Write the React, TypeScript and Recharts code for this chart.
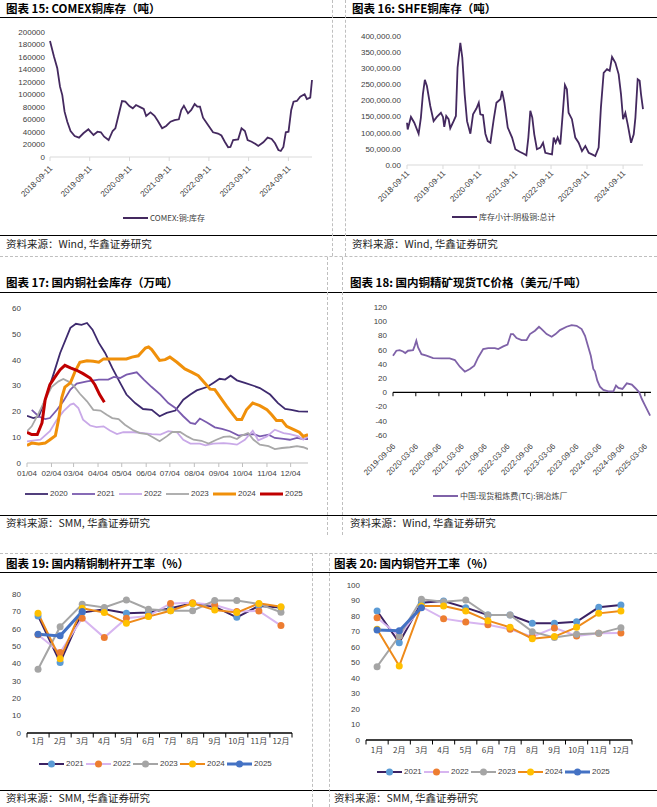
import React from 'react';
import { LineChart, Line, XAxis, YAxis, ReferenceLine } from 'recharts';

const SANS = '"Liberation Sans", Arial, sans-serif';
const CJK = '"Noto Sans CJK SC", "Noto Sans", sans-serif';
const AXIS = '#404040';

// 图表15: COMEX铜库存（吨）
const comexDates = [
  '2018-09-11', '2018-10-18', '2018-11-17', '2018-12-12', '2019-01-02', '2019-01-23', '2019-02-17', '2019-03-19',
  '2019-04-26', '2019-06-05', '2019-07-15', '2019-08-30', '2019-10-16', '2019-11-22', '2019-12-23', '2020-01-22',
  '2020-03-03', '2020-04-09', '2020-05-04', '2020-06-10', '2020-07-04', '2020-08-04', '2020-09-10', '2020-10-11',
  '2020-11-10', '2020-12-27', '2021-01-20', '2021-02-11', '2021-03-23', '2021-04-29', '2021-05-30', '2021-07-08',
  '2021-08-14', '2021-09-23', '2021-10-30', '2021-12-09', '2021-12-31', '2022-01-24', '2022-03-03', '2022-04-02',
  '2022-05-03', '2022-05-28', '2022-06-21', '2022-07-19', '2022-09-03', '2022-10-19', '2022-12-04', '2023-01-04',
  '2023-02-04', '2023-03-07', '2023-03-28', '2023-04-22', '2023-06-07', '2023-07-08', '2023-08-08', '2023-09-02',
  '2023-10-09', '2023-11-14', '2023-12-09', '2024-01-24', '2024-03-04', '2024-04-10', '2024-05-11', '2024-06-11',
  '2024-07-03', '2024-07-27', '2024-08-18', '2024-09-12', '2024-10-07', '2024-10-28', '2024-11-28', '2024-12-29',
  '2025-02-07', '2025-02-28', '2025-03-31', '2025-04-16',
];
const comexStock = [
  185600, 160500, 142000, 112500, 99000, 72500, 56500, 41600,
  33600, 31000, 38000, 44300, 35200, 40500, 39500, 32500,
  27200, 41600, 45900, 72500, 89600, 88500, 81600, 77900,
  83200, 79000, 76800, 65600, 71500, 66000, 57600, 45900,
  49600, 56500, 59000, 60300, 75200, 82100, 69900, 75200,
  84800, 80500, 80500, 62900, 51200, 39500, 37500, 34400,
  24500, 15500, 16000, 27200, 28300, 45900, 41600, 27200,
  24500, 20800, 17600, 23500, 31000, 28800, 21900, 11200,
  9600, 16000, 39500, 40500, 75200, 88500, 89600, 96500,
  100300, 92800, 95000, 123200,
];
const comexYTicks = [0, 20000, 40000, 60000, 80000, 100000, 120000, 140000, 160000, 180000, 200000];

// 图表16: SHFE铜库存（吨）
const shfeDates = [
  '2018-09-11', '2018-09-18', '2018-10-21', '2018-11-24', '2019-01-07', '2019-01-30', '2019-02-19', '2019-03-11',
  '2019-04-01', '2019-05-05', '2019-06-08', '2019-07-11', '2019-08-21', '2019-09-11', '2019-09-24', '2019-10-14',
  '2019-11-07', '2019-11-24', '2019-12-28', '2020-01-20', '2020-02-06', '2020-03-05', '2020-03-25', '2020-04-18',
  '2020-05-12', '2020-06-15', '2020-07-12', '2020-08-15', '2020-09-08', '2020-09-24', '2020-10-21', '2020-11-14',
  '2020-12-08', '2021-01-04', '2021-02-07', '2021-03-06', '2021-04-16', '2021-05-02', '2021-05-26', '2021-06-29',
  '2021-08-12', '2021-09-14', '2021-10-28', '2021-12-08', '2022-01-04', '2022-01-24', '2022-02-13', '2022-03-05',
  '2022-03-25', '2022-04-21', '2022-05-26', '2022-06-22', '2022-07-15', '2022-08-18', '2022-09-21', '2022-10-08',
  '2022-10-28', '2022-11-17', '2022-12-14', '2023-01-10', '2023-01-30', '2023-02-19', '2023-03-08', '2023-04-11',
  '2023-05-15', '2023-06-18', '2023-07-22', '2023-08-25', '2023-09-28', '2023-11-01', '2023-12-04', '2024-01-07',
  '2024-01-30', '2024-02-27', '2024-04-01', '2024-04-28', '2024-05-22', '2024-06-25', '2024-07-28', '2024-08-21',
  '2024-09-11', '2024-10-04', '2024-10-28', '2024-12-01', '2024-12-28', '2025-01-14', '2025-02-06', '2025-02-26',
  '2025-03-12', '2025-04-01',
];
const shfeStock = [
  131000, 110000, 149000, 131000, 97000, 147000, 219000, 264000,
  245000, 183000, 136000, 149000, 162000, 149000, 118000, 152000,
  142000, 114000, 136000, 152000, 302000, 379000, 333000, 219000,
  136000, 97000, 157000, 175000, 193000, 157000, 155000, 97000,
  74000, 69000, 142000, 193000, 204000, 230000, 193000, 116000,
  85000, 49000, 41000, 35000, 30000, 85000, 168000, 147000,
  95000, 49000, 54000, 69000, 38000, 35000, 33000, 85000,
  69000, 85000, 64000, 168000, 248000, 235000, 162000, 142000,
  85000, 69000, 43000, 59000, 38000, 33000, 28000, 54000,
  178000, 286000, 297000, 292000, 335000, 317000, 281000, 219000,
  142000, 162000, 126000, 69000, 95000, 147000, 266000, 261000,
  219000, 173000,
];
const shfeYTicks = [0, 50000, 100000, 150000, 200000, 250000, 300000, 350000, 400000];
const yearTicks = ['2018-09-11', '2019-09-11', '2020-09-11', '2021-09-11', '2022-09-11', '2023-09-11', '2024-09-11'];

// 图表17: 国内铜社会库存（万吨）
const socMonthTicks = ['01-04', '02-04', '03-04', '04-04', '05-04', '06-04', '07-04', '08-04', '09-04', '10-04', '11-04', '12-04'];
const socYTicks = [0, 10, 20, 30, 40, 50, 60];
const soc2020Dates = ['01-04', '01-12', '01-19', '01-27', '02-07', '02-15', '02-28', '03-07', '03-14', '03-21', '03-28', '04-05', '04-13', '04-22', '05-02', '05-10', '05-21', '05-31', '06-11', '06-21', '06-30', '07-11', '07-21', '07-30', '08-07', '08-20', '08-28', '09-05', '09-12', '09-19', '09-27', '10-07', '10-18', '10-26', '11-08', '11-18', '11-27', '12-05', '12-14', '12-26'];
const soc2020 = [18.3, 17.4, 18, 24.5, 34.8, 42.6, 52.3, 53.9, 53.5, 54.2, 51.6, 46.5, 42.6, 36.8, 31, 26.5, 23.2, 20.9, 20.6, 18.1, 19.4, 20.3, 24.5, 26.5, 28.1, 29.4, 31, 32.6, 32.3, 33.8, 32, 31, 29.9, 29, 26.5, 23.2, 20.9, 20.6, 20, 19.9];
const soc2021Dates = ['01-10', '01-19', '01-27', '02-02', '02-11', '02-19', '02-28', '03-08', '03-21', '04-05', '04-17', '04-24', '05-02', '05-10', '05-23', '06-01', '06-11', '06-22', '07-02', '07-11', '07-21', '07-30', '08-05', '08-11', '08-20', '08-30', '09-08', '09-18', '09-29', '10-09', '10-18', '10-26', '11-06', '11-14', '11-25', '12-03', '12-12', '12-20', '12-26'];
const soc2021 = [20.6, 18, 17, 17.4, 20.6, 23.9, 28.4, 30.7, 31.6, 32.3, 32.3, 33.3, 32.9, 34.2, 35.1, 32.3, 29.4, 26.5, 23.2, 21.3, 18.1, 15.5, 15.1, 17.2, 15.7, 13.8, 13.2, 12.3, 10.6, 11, 11.2, 10.3, 11, 9.7, 9.3, 9, 9.7, 9.3, 9.3];
const soc2022Dates = ['01-04', '01-21', '02-02', '02-11', '02-19', '02-28', '03-04', '03-10', '03-16', '03-25', '04-02', '04-11', '04-19', '04-28', '05-06', '05-19', '06-01', '06-11', '06-22', '07-02', '07-13', '07-21', '07-30', '08-11', '08-18', '08-28', '09-10', '09-18', '09-27', '10-07', '10-17', '10-24', '11-04', '11-14', '11-25', '12-03', '12-14', '12-20', '12-26'];
const soc2022 = [8.4, 9, 12.3, 16.8, 20, 22.6, 23, 21.3, 16.8, 14.5, 13.9, 14.2, 12.6, 11.2, 11.9, 11.9, 11.6, 11.2, 11, 12.3, 11.9, 9, 7.5, 7.5, 6.8, 7.5, 7.7, 7.5, 7.1, 9, 12.5, 8.8, 10.3, 12.9, 11.6, 11.2, 10.3, 9, 10.3];
const soc2023Dates = ['01-04', '01-10', '01-19', '01-27', '02-04', '02-13', '02-19', '02-25', '03-04', '03-12', '03-21', '03-29', '04-07', '04-15', '04-22', '04-30', '05-08', '05-19', '05-27', '06-05', '06-13', '06-21', '06-30', '07-07', '07-17', '07-26', '08-03', '08-13', '08-22', '09-01', '09-10', '09-18', '09-27', '10-03', '10-11', '10-18', '10-26', '11-06', '11-14', '11-23', '12-03', '12-12', '12-20', '12-26'];
const soc2023 = [12.3, 14.2, 19.4, 24.5, 29.4, 31.6, 32.5, 31.6, 29.9, 26.8, 23.9, 20.6, 20.3, 18.7, 17.4, 17, 14.8, 12.6, 11.6, 11.2, 9.9, 8.4, 10.3, 12, 12, 10.3, 9, 8.6, 7.5, 9, 10.1, 10.3, 9.3, 10.6, 11.6, 9, 7.1, 6.5, 5.4, 5.8, 6.1, 6.5, 6.1, 5.4];
const soc2024Dates = ['01-04', '01-10', '01-19', '01-27', '02-02', '02-09', '02-13', '02-17', '02-21', '02-28', '03-06', '03-12', '03-21', '03-29', '04-05', '04-11', '04-19', '05-02', '05-10', '05-17', '05-25', '06-03', '06-07', '06-11', '06-21', '06-28', '07-04', '07-13', '07-23', '08-01', '08-09', '08-18', '08-24', '08-30', '09-05', '09-14', '09-22', '09-27', '10-03', '10-09', '10-17', '10-26', '11-04', '11-10', '11-16', '11-23', '11-29', '12-08', '12-15', '12-20', '12-26'];
const soc2024 = [6.8, 7.7, 7.4, 7.7, 9, 10.6, 16.8, 25.2, 29.4, 31, 35.5, 39, 39.6, 39.4, 39, 40.3, 40.3, 40.3, 40.3, 41, 41.5, 44.5, 44.9, 43.9, 39.7, 40, 41, 39, 36.4, 35.1, 33.8, 30.7, 28.6, 28.4, 25.8, 21.9, 18.7, 16.8, 16.8, 20.6, 23.2, 22.2, 20.6, 18.7, 16.5, 16.5, 14.2, 12.9, 11.9, 10.3, 11];
const soc2025Dates = ['01-04', '01-10', '01-17', '01-23', '01-27', '02-02', '02-09', '02-15', '02-21', '02-28', '03-08', '03-16', '03-25', '03-31', '04-06', '04-12'];
const soc2025 = [11.9, 11, 11, 15.5, 24.5, 30.3, 33.5, 36.1, 37.8, 36.8, 35.9, 34.6, 32.9, 30.3, 26.5, 23.5];

// 图表18: 国内铜精矿现货TC价格（美元/千吨）
const tcDates = [
  '2019-09-06', '2019-10-03', '2019-10-29', '2019-11-25', '2019-12-13', '2020-01-04', '2020-02-13', '2020-02-26',
  '2020-03-10', '2020-03-24', '2020-04-20', '2020-05-30', '2020-07-22', '2020-09-26', '2020-12-01', '2021-01-11',
  '2021-02-20', '2021-04-01', '2021-05-11', '2021-06-15', '2021-07-16', '2021-08-25', '2021-10-04', '2021-11-26',
  '2021-12-23', '2022-02-01', '2022-03-07', '2022-04-03', '2022-04-21', '2022-05-18', '2022-06-27', '2022-08-06',
  '2022-09-02', '2022-10-12', '2022-11-13', '2022-12-04', '2023-01-13', '2023-02-22', '2023-03-25', '2023-04-29',
  '2023-06-21', '2023-07-31', '2023-09-09', '2023-10-19', '2023-11-15', '2023-12-12', '2023-12-31', '2024-01-20',
  '2024-02-02', '2024-02-21', '2024-03-13', '2024-04-09', '2024-05-19', '2024-06-28', '2024-07-19', '2024-08-07',
  '2024-09-08', '2024-10-13', '2024-11-22', '2024-12-19', '2025-01-20', '2025-02-10', '2025-03-08', '2025-04-17',
];
const tcValues = [
  51.5, 58.5, 59.4, 57.5, 55.3, 58.5, 59.4, 65.4,
  72.5, 63, 53.7, 51.5, 48.2, 47.7, 47.7, 45.4,
  36, 29, 32.8, 37.4, 49, 60.8, 62.2, 62.2,
  60.8, 64.6, 67, 81.9, 81.9, 76.3, 73.5, 73.5,
  81.9, 86.6, 92.2, 89, 81.9, 78.2, 81.9, 87.5,
  92.2, 94.5, 93.6, 89, 79.6, 63.2, 51.5, 32.8,
  29.5, 16.4, 8, 3.3, 1.4, 1.4, 9.4, 6.1,
  4.7, 12.6, 10.8, 6.1, 0, -9.4, -18.7, -32.7,
];
const tcTicks = ['2019-09-06', '2020-03-06', '2020-09-06', '2021-03-06', '2021-09-06', '2022-03-06', '2022-09-06', '2023-03-06', '2023-09-06', '2024-03-06', '2024-09-06', '2025-03-06'];
const tcEnd = '2025-04-24';
const tcYTicks = [-60, -40, -20, 0, 20, 40, 60, 80, 100, 120];

// 图表19 / 图表20: 开工率（%）
const months = ['1月', '2月', '3月', '4月', '5月', '6月', '7月', '8月', '9月', '10月', '11月', '12月'];
const rod2021 = [67.4, 40.6, 69.3, 71.2, 68.9, 69.3, 71.8, 74.6, 72.7, 66.6, 73.1, 72.2];
const rod2022 = [56.5, 46.3, 66.0, 54.9, 66.0, 67.4, 74.6, 75.0, 73.7, 70.0, 70.2, 61.8];
const rod2023 = [36.7, 61.2, 74.1, 72.2, 76.6, 71.2, 70.4, 70.4, 76.2, 76.2, 74.3, 69.5];
const rod2024 = [68.9, 42.7, 71.8, 69.3, 63.2, 67.0, 70.4, 74.6, 70.8, 69.3, 74.6, 72.7];
const rod2025 = [56.8, 55.9, 69.9];
const tube2021 = [83.2, 62.8, 88.6, 89.7, 85.4, 80.6, 80.6, 75.3, 75.3, 76.3, 85.6, 87.1];
const tube2022 = [78.9, 67.0, 86.0, 78.3, 76.1, 74.4, 71.4, 66.7, 72.3, 67.1, 68.8, 69.0];
const tube2023 = [47.3, 67.1, 90.8, 89.2, 90.3, 80.6, 80.6, 69.9, 66.2, 68.2, 68.8, 72.5];
const tube2024 = [71.4, 47.7, 86.5, 86.5, 83.2, 77.0, 72.7, 65.4, 66.7, 72.7, 81.7, 83.2];
const tube2025 = [71.0, 70.5, 85.4];
const rodYTicks = [0, 10, 20, 30, 40, 50, 60, 70, 80];
const tubeYTicks = [0, 10, 20, 30, 40, 50, 60, 70, 80, 90, 100];

// ---- helpers
const toRows = (dates: string[], values: number[]) => dates.map((d, i) => ({ t: Date.parse(d), v: values[i] }));
const dayOf = (md: string) => (Date.UTC(2021, +md.slice(0, 2) - 1, +md.slice(3, 5)) - Date.UTC(2021, 0, 4)) / 86400000;
const toDayRows = (dates: string[], values: number[]) => dates.map((d, i) => ({ d: dayOf(d), v: values[i] }));
const dayLabel = (v: number) => {
  const dt = new Date(Date.UTC(2021, 0, 4) + v * 86400000);
  return String(dt.getUTCMonth() + 1).padStart(2, '0') + '/' + String(dt.getUTCDate()).padStart(2, '0');
};

const comexRows = toRows(comexDates, comexStock);
const shfeRows = toRows(shfeDates, shfeStock);
const tcRows = toRows(tcDates, tcValues);

const socSeries = [
  { name: '2020', rows: toDayRows(soc2020Dates, soc2020), color: '#3E2A6E', width: 1.8 },
  { name: '2021', rows: toDayRows(soc2021Dates, soc2021), color: '#7A5BAE', width: 1.8 },
  { name: '2022', rows: toDayRows(soc2022Dates, soc2022), color: '#C9A9E8', width: 1.8 },
  { name: '2023', rows: toDayRows(soc2023Dates, soc2023), color: '#A8A8A8', width: 1.8 },
  { name: '2024', rows: toDayRows(soc2024Dates, soc2024), color: '#F0900A', width: 3 },
  { name: '2025', rows: toDayRows(soc2025Dates, soc2025), color: '#C00000', width: 3 },
];

const rateStyles = [
  { key: 'y2021', name: '2021', line: '#3B2163', marker: '#5B9BD5', width: 2 },
  { key: 'y2022', name: '2022', line: '#D7B5F0', marker: '#ED7D31', width: 2 },
  { key: 'y2023', name: '2023', line: '#A5A5A5', marker: '#A5A5A5', width: 2 },
  { key: 'y2024', name: '2024', line: '#EE8A1A', marker: '#FFC000', width: 2 },
  { key: 'y2025', name: '2025', line: '#4472C4', marker: '#4472C4', width: 3 },
];
const rodRows = months.map((m, i) => ({ m: i + 1, y2021: rod2021[i], y2022: rod2022[i], y2023: rod2023[i], y2024: rod2024[i], y2025: rod2025[i] }));
const tubeRows = months.map((m, i) => ({ m: i + 1, y2021: tube2021[i], y2022: tube2022[i], y2023: tube2023[i], y2024: tube2024[i], y2025: tube2025[i] }));
const monthIdx = months.map((_, i) => i + 1);
const monthEdges = months.map((_, i) => i + 0.5).concat(months.length + 0.5);

const tickFont = { fontSize: 8, fill: AXIS, fontFamily: SANS };

const DateTick = (props: any) => {
  const { x, y, payload } = props;
  return (
    <text x={x} y={y} dy={4} textAnchor="end" fontSize={8} fill={AXIS} fontFamily={SANS} transform={`rotate(-45 ${x} ${y})`}>
      {new Date(payload.value).toISOString().slice(0, 10)}
    </text>
  );
};

const Title = ({ left, top, children }: any) => (
  <div style={{ position: 'absolute', left, top, fontFamily: CJK, fontWeight: 700, fontSize: 11.5, lineHeight: '16px', color: '#000', whiteSpace: 'nowrap' }}>
    {children}
  </div>
);

const Source = ({ left, top, children }: any) => (
  <div style={{ position: 'absolute', left, top, fontFamily: CJK, fontSize: 10.5, lineHeight: '14px', color: '#222', whiteSpace: 'nowrap' }}>
    {children}
  </div>
);

const HLine = ({ top, dashed }: any) => (
  <div style={{ position: 'absolute', left: 0, top, width: 657, borderTop: dashed ? '1px dashed #BFBFBF' : '1.5px solid #000' }} />
);
const VDash = ({ left, top, height }: any) => (
  <div style={{ position: 'absolute', left, top, height, borderLeft: '1px dashed #BFBFBF' }} />
);

type LegendItem = { name: string; color: string; width?: number; marker?: string };
const LegendRow = ({ left, top, items, pitch, lineLen = 25, cjk = false }: { left: number; top: number; items: LegendItem[]; pitch: number; lineLen?: number; cjk?: boolean }) => (
  <div style={{ position: 'absolute', left, top, height: 10 }}>
    {items.map((it, i) => (
      <div key={it.name} style={{ position: 'absolute', left: i * pitch, top: 0, height: 10, display: 'flex', alignItems: 'center', whiteSpace: 'nowrap' }}>
        <svg width={lineLen} height={10} style={{ display: 'block' }}>
          <line x1={0} y1={5} x2={lineLen} y2={5} stroke={it.color} strokeWidth={it.width || 2} />
          {it.marker && <circle cx={lineLen / 2} cy={5} r={3.5} fill={it.marker} />}
        </svg>
        <span style={{ marginLeft: 2, fontSize: 8, lineHeight: '10px', color: AXIS, fontFamily: cjk ? CJK : SANS }}>{it.name}</span>
      </div>
    ))}
  </div>
);

// category axis in the Excel style: tick marks between months, labels centred in each month
const RateChart = ({ rows, yTicks, yMax, tickLen, width, height, top, right, yWidth, labelHeight, labelMargin }: any) => (
  <LineChart width={width} height={height} data={rows} margin={{ top, right, bottom: 0, left: 0 }}>
    <XAxis dataKey="m" type="number" domain={[0.5, 12.5]} ticks={monthIdx} interval={0} height={labelHeight} tickSize={0} tickMargin={labelMargin} axisLine={false} tickLine={false} tickFormatter={(v: number) => months[v - 1]} tick={{ fontSize: 8, fill: AXIS, fontFamily: CJK }} />
    <YAxis domain={[0, yMax]} ticks={yTicks} interval={0} width={yWidth} axisLine={false} tickLine={false} tickSize={3} tickMargin={3} tick={tickFont} />
    <ReferenceLine y={0} stroke="#000" strokeWidth={1.3} />
    {monthEdges.map((e) => (
      <ReferenceLine key={e} segment={[{ x: e, y: 0 }, { x: e, y: -tickLen }]} stroke="#000" strokeWidth={1} ifOverflow="visible" />
    ))}
    {rateStyles.map((s) => (
      <Line key={s.key} dataKey={s.key} stroke={s.line} strokeWidth={s.width} dot={{ r: 3.5, fill: s.marker, stroke: s.marker, strokeWidth: 0 }} activeDot={false} isAnimationActive={false} />
    ))}
  </LineChart>
);

export default function App() {
  const rateLegend = rateStyles.map((s) => ({ name: s.name, color: s.line, width: s.width, marker: s.marker }));
  return (
    <div style={{ position: 'absolute', left: 0, top: 0, width: 657, height: 807, background: '#fff', overflow: 'hidden' }}>
      {/* frame */}
      <HLine top={17} />
      <HLine top={235} />
      <HLine top={256} dashed />
      <HLine top={292} />
      <HLine top={515} />
      <HLine top={553} dashed />
      <HLine top={572} />
      <HLine top={790} />
      <VDash left={332} top={0} height={256} />
      <VDash left={345} top={0} height={256} />
      <VDash left={327} top={257} height={278} />
      <VDash left={342} top={257} height={278} />
      <VDash left={312} top={553} height={254} />
      <VDash left={329} top={553} height={254} />

      {/* 图表15 */}
      <Title left={6} top={0}>图表 15: COMEX铜库存（吨）</Title>
      <div style={{ position: 'absolute', left: 0, top: 20 }}>
        <LineChart width={330} height={200} data={comexRows} margin={{ top: 12, right: 18, bottom: 0, left: 0 }}>
          <XAxis dataKey="t" type="number" scale="time" domain={[comexRows[0].t, comexRows[comexRows.length - 1].t]} ticks={yearTicks.map((d) => Date.parse(d))} interval={0} height={63} tick={<DateTick />} tickSize={4} tickMargin={5} axisLine={{ stroke: '#D9D9D9' }} tickLine={{ stroke: '#D9D9D9' }} />
          <YAxis domain={[0, 200000]} ticks={comexYTicks} interval={0} width={50} axisLine={false} tickLine={false} tickSize={3} tickMargin={2} tick={tickFont} />
          <Line dataKey="v" stroke="#44295F" strokeWidth={1.8} dot={false} activeDot={false} isAnimationActive={false} />
        </LineChart>
      </div>
      <LegendRow left={123} top={213} items={[{ name: 'COMEX:铜:库存', color: '#44295F' }]} pitch={0} cjk />
      <Source left={6} top={237}>资料来源：Wind, 华鑫证券研究</Source>

      {/* 图表16 */}
      <Title left={352} top={0}>图表 16: SHFE铜库存（吨）</Title>
      <div style={{ position: 'absolute', left: 330, top: 20 }}>
        <LineChart width={327} height={200} data={shfeRows} margin={{ top: 16, right: 14, bottom: 0, left: 0 }}>
          <XAxis dataKey="t" type="number" scale="time" domain={[shfeRows[0].t, shfeRows[shfeRows.length - 1].t]} ticks={yearTicks.map((d) => Date.parse(d))} interval={0} height={55} tick={<DateTick />} tickSize={4} tickMargin={2} axisLine={{ stroke: '#D9D9D9' }} tickLine={{ stroke: '#D9D9D9' }} />
          <YAxis domain={[0, 400000]} ticks={shfeYTicks} interval={0} width={77} axisLine={false} tickLine={false} tickSize={3} tickMargin={3} tick={tickFont} tickFormatter={(v: number) => v.toLocaleString('en-US', { minimumFractionDigits: 2, maximumFractionDigits: 2 })} />
          <Line dataKey="v" stroke="#44295F" strokeWidth={1.8} dot={false} activeDot={false} isAnimationActive={false} />
        </LineChart>
      </div>
      <LegendRow left={452} top={212} items={[{ name: '库存小计:阴极铜:总计', color: '#44295F' }]} pitch={0} cjk />
      <Source left={352} top={237}>资料来源：Wind, 华鑫证券研究</Source>

      {/* 图表17 */}
      <Title left={6} top={274}>图表 17: 国内铜社会库存（万吨）</Title>
      <div style={{ position: 'absolute', left: 0, top: 295 }}>
        <LineChart width={330} height={190} margin={{ top: 13, right: 22, bottom: 0, left: 0 }}>
          <XAxis dataKey="d" type="number" domain={[0, 356]} ticks={socMonthTicks.map(dayOf)} interval={0} height={22} tickSize={4} tickMargin={3} axisLine={{ stroke: '#BFBFBF' }} tickLine={{ stroke: '#BFBFBF' }} tickFormatter={dayLabel} tick={tickFont} allowDataOverflow />
          <YAxis domain={[0, 60]} ticks={socYTicks} interval={0} width={27} axisLine={false} tickLine={false} tickSize={3} tickMargin={3} tick={tickFont} />
          {socSeries.map((s) => (
            <Line key={s.name} data={s.rows} dataKey="v" stroke={s.color} strokeWidth={s.width} dot={false} activeDot={false} isAnimationActive={false} />
          ))}
        </LineChart>
      </div>
      <LegendRow left={25} top={489} items={socSeries.map((s) => ({ name: s.name, color: s.color, width: s.width }))} pitch={47} lineLen={23} />
      <Source left={6} top={516}>资料来源：SMM, 华鑫证券研究</Source>

      {/* 图表18 */}
      <Title left={350} top={274}>图表 18: 国内铜精矿现货TC价格（美元/千吨）</Title>
      <div style={{ position: 'absolute', left: 330, top: 295 }}>
        <LineChart width={327} height={195} data={tcRows} margin={{ top: 12, right: 6, bottom: 0, left: 0 }}>
          <XAxis dataKey="t" type="number" scale="time" domain={[tcRows[0].t, Date.parse(tcEnd)]} ticks={tcTicks.map((d) => Date.parse(d))} interval={0} height={55} tick={<DateTick />} tickSize={0} tickMargin={9} axisLine={false} tickLine={false} />
          <YAxis domain={[-60, 120]} ticks={tcYTicks} interval={0} width={63} axisLine={false} tickLine={false} tickSize={3} tickMargin={3} tick={tickFont} />
          <ReferenceLine y={0} stroke="#000" strokeWidth={1.3} />
          {tcTicks.map((d) => (
            <ReferenceLine key={d} segment={[{ x: Date.parse(d), y: 0 }, { x: Date.parse(d), y: -5.5 }]} stroke="#000" strokeWidth={1} />
          ))}
          <Line dataKey="v" stroke="#7F62A8" strokeWidth={1.8} dot={false} activeDot={false} isAnimationActive={false} />
        </LineChart>
      </div>
      <LegendRow left={433} top={491} items={[{ name: '中国:现货粗炼费(TC):铜冶炼厂', color: '#7F62A8' }]} pitch={0} cjk />
      <Source left={350} top={516}>资料来源：Wind, 华鑫证券研究</Source>

      {/* 图表19 */}
      <Title left={6} top={555}>图表 19: 国内精铜制杆开工率（%）</Title>
      <div style={{ position: 'absolute', left: 0, top: 580 }}>
        <RateChart rows={rodRows} yTicks={rodYTicks} yMax={80} tickLen={2.6} width={330} height={175} top={14} right={38} yWidth={27} labelHeight={22} labelMargin={5} />
      </div>
      <LegendRow left={39} top={759} items={rateLegend} pitch={47} />
      <Source left={6} top={791}>资料来源：SMM, 华鑫证券研究</Source>

      {/* 图表20 */}
      <Title left={334} top={555}>图表 20: 国内铜管开工率（%）</Title>
      <div style={{ position: 'absolute', left: 330, top: 575 }}>
        <RateChart rows={tubeRows} yTicks={tubeYTicks} yMax={100} tickLen={2.9} width={327} height={185} top={10} right={25} yWidth={36} labelHeight={20} labelMargin={7} />
      </div>
      <LegendRow left={377} top={767} items={rateLegend} pitch={47} />
      <Source left={334} top={791}>资料来源：SMM, 华鑫证券研究</Source>
    </div>
  );
}
